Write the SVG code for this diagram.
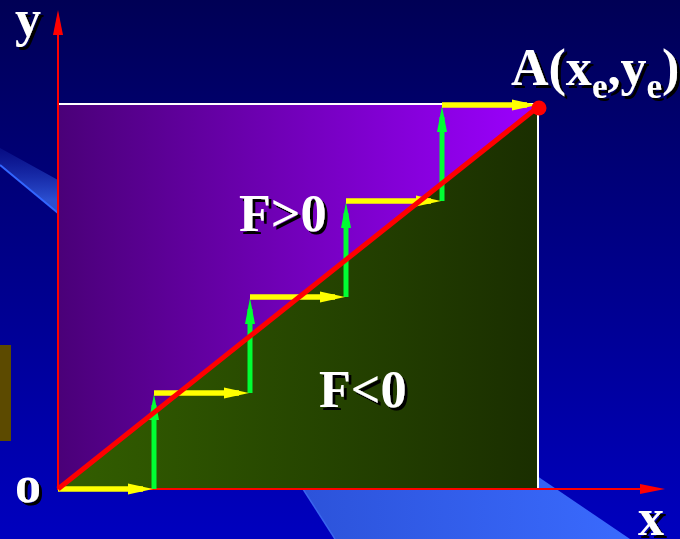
<svg xmlns="http://www.w3.org/2000/svg" width="680" height="539" viewBox="0 0 680 539">
<style>
.lbl{font-family:"Liberation Serif","Times New Roman",serif;font-weight:bold;font-size:52px;fill:#fff;filter:url(#sh)}
.ax{stroke:#ff0000;stroke-width:2;fill:none}
.yl{stroke:#ffff00;stroke-width:5.5;fill:none;marker-end:url(#ay)}
.gl{stroke:#00ff33;stroke-width:5;fill:none;marker-end:url(#ag)}
.edge{stroke:#ffffff;stroke-width:2;fill:none}
</style>
<defs>
<linearGradient id="bg" x1="0" y1="0" x2="0" y2="1">
<stop offset="0" stop-color="#000055"/>
<stop offset="1" stop-color="#0000bf"/>
</linearGradient>
<linearGradient id="pu" gradientUnits="userSpaceOnUse" x1="58" y1="0" x2="538" y2="0">
<stop offset="0" stop-color="#4a0078"/>
<stop offset="1" stop-color="#9c00ff"/>
</linearGradient>
<linearGradient id="gr" gradientUnits="userSpaceOnUse" x1="58" y1="0" x2="538" y2="0">
<stop offset="0" stop-color="#335f00"/>
<stop offset="1" stop-color="#1a2e00"/>
</linearGradient>
<linearGradient id="band" gradientUnits="userSpaceOnUse" x1="250" y1="0" x2="640" y2="0">
<stop offset="0" stop-color="#2a4fd4"/>
<stop offset="1" stop-color="#3a6bff"/>
</linearGradient>
<linearGradient id="band2" gradientUnits="userSpaceOnUse" x1="0" y1="150" x2="0" y2="200">
<stop offset="0" stop-color="#1a2fb0" stop-opacity="0.3"/>
<stop offset="1" stop-color="#2b4fd0"/>
</linearGradient>
<filter id="sh" x="-10%" y="-10%" width="130%" height="130%">
<feDropShadow dx="3" dy="3" stdDeviation="0.4" flood-color="#000000" flood-opacity="1"/>
</filter>
<marker id="ay" markerUnits="userSpaceOnUse" markerWidth="26" markerHeight="12" refX="15" refY="6" orient="auto">
<path d="M0,0.5 L25,6 L0,11.5 z" fill="#ffff00"/>
</marker>
<marker id="ag" markerUnits="userSpaceOnUse" markerWidth="27" markerHeight="12" refX="15" refY="6" orient="auto">
<path d="M0,1 L26,6 L0,11 z" fill="#00ff33"/>
</marker>
<marker id="ar" markerUnits="userSpaceOnUse" markerWidth="26" markerHeight="12" refX="0" refY="6" orient="auto">
<path d="M0,1 L25,6 L0,11 z" fill="#ff0000"/>
</marker>
</defs>

<g id="background">
<rect x="0" y="0" width="680" height="539" fill="url(#bg)"/>
<polygon points="0,148 58,180 58,213 0,165" fill="url(#band2)"/>
<line x1="0" y1="165" x2="58" y2="213" stroke="#3366ff" stroke-width="2"/>
<polygon points="246,400 425,400 630,539 335,539" fill="url(#band)"/>
<line x1="246" y1="400" x2="335" y2="539" stroke="#3a66ee" stroke-width="1.5"/>
<rect x="0" y="345" width="11" height="96" fill="#5c4a00"/>
</g>

<g id="regions">
<polygon id="region-upper" points="58,104 538,104 538,107 58,489" fill="url(#pu)"/>
<polygon id="region-lower" points="58,489 538,107 538,489" fill="url(#gr)"/>
<line x1="58" y1="489" x2="538" y2="107" stroke="#ffffff" stroke-width="1" stroke-opacity="0.6"/>
<polyline points="58,104 538,104 538,489" class="edge"/>
</g>

<g id="axes">
<line id="axis-y" x1="58" y1="490" x2="58" y2="35" class="ax" marker-end="url(#ar)"/>
<line id="axis-x" x1="57" y1="489" x2="640" y2="489" class="ax" marker-end="url(#ar)"/>
</g>

<g id="connectors">
<line x1="154" y1="489" x2="154" y2="405" class="gl"/>
<line x1="250" y1="393" x2="250" y2="309" class="gl"/>
<line x1="346" y1="297" x2="346" y2="213" class="gl"/>
<line x1="442" y1="201" x2="442" y2="117" class="gl"/>
<line x1="58" y1="489" x2="143" y2="489" class="yl"/>
<line x1="154" y1="393" x2="239" y2="393" class="yl"/>
<line x1="250" y1="297" x2="335" y2="297" class="yl"/>
<line x1="346" y1="201" x2="431" y2="201" class="yl"/>
<line x1="442" y1="105" x2="527" y2="105" class="yl"/>
<line id="line-OA" x1="58" y1="489" x2="538" y2="107" stroke="#ff0000" stroke-width="5"/>
</g>

<g id="point-A">
<circle cx="539" cy="108" r="7.5" fill="#ff0000"/>
</g>

<g id="labels">
<text class="lbl" x="15" y="36">y</text>
<text class="lbl" x="15" y="502">o</text>
<text class="lbl" x="638" y="535">x</text>
<text class="lbl" x="511" y="85">A(x<tspan font-size="35" dy="13">e</tspan><tspan dy="-13">,y</tspan><tspan font-size="35" dy="13">e</tspan><tspan dy="-13">)</tspan></text>
<text class="lbl" x="239" y="231">F&gt;0</text>
<text class="lbl" x="319" y="407">F&lt;0</text>
</g>
</svg>
